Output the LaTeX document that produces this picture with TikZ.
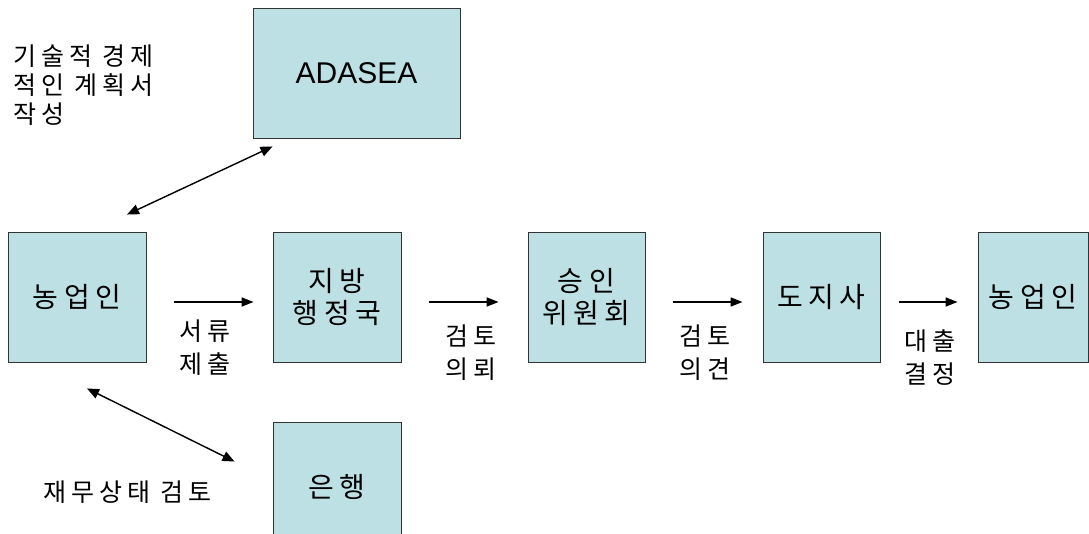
\documentclass[tikz,border=0pt]{standalone}
\usepackage{fontspec}
\setmainfont{Liberation Sans}
\newfontfamily\kr[LetterSpace=20]{Noto Sans CJK KR}
\usetikzlibrary{arrows.meta}
\definecolor{boxfill}{RGB}{188,224,227}
\tikzset{
  box/.style={draw=black!80, fill=boxfill, line width=0.9pt, minimum height=130pt, inner sep=0pt, align=center, font=\kr\fontsize{28}{32}\selectfont},
  flow/.style={-{Triangle[length=12pt,width=9pt]}, line width=1.6pt},
  both/.style={{Triangle[length=12pt,width=10pt]}-{Triangle[length=12pt,width=10pt]}, line width=1.4pt},
  lbl/.style={align=center, inner sep=0pt, font=\kr\fontsize{25}{33}\selectfont},
}
\begin{document}
\begin{tikzpicture}[x=1pt,y=-1pt]
\useasboundingbox (0,0) rectangle (1089,534);
\clip (0,0) rectangle (1089,534);
\node[box, minimum width=138pt](F1)at(77,297){농업인};
\node[box, minimum width=128pt](L)at(337,297){지방\\행정국};
\node[box, minimum width=117pt](C)at(586.5,297){승인\\위원회};
\node[box, minimum width=117pt](D)at(821.5,297){도지사};
\node[box, minimum width=110pt](F2)at(1033,297){농업인};
\node[box, minimum width=207pt, font=\fontsize{30}{36}\selectfont](A)at(356.5,73){ADASEA};
\node[box, minimum width=128pt](B)at(337,487){은행};
% flow of the file
\draw[flow]([shift={(28,5)}]F1.east)--([shift={(-19,5)}]L.west);
\draw[flow]([shift={(28,5)}]L.east)--([shift={(-29,5)}]C.west);
\draw[flow]([shift={(28,5)}]C.east)--([shift={(-20,5)}]D.west);
\draw[flow]([shift={(19,5)}]D.east)--([shift={(-20,5)}]F2.west);
\node[lbl](l1)at(205,348){서류\\제출};
\node[lbl](l2)at(471,353){검토\\의뢰};
\node[lbl](l3)at(705,353){검토\\의견};
\node[lbl](l4)at(930,358){대출\\결정};
% side partners
\coordinate(a1)at([shift={(50,-17)}]F1.north);
\coordinate(a2)at([shift={(20,8)}]A.south west);
\draw[both](a1)--(a2);
\coordinate(b1)at([shift={(10,26)}]F1.south);
\coordinate(b2)at([shift={(-38,40)}]B.north west);
\draw[both](b1)--(b2);
\node[lbl, align=left, anchor=west, font=\kr\fontsize{25}{29}\selectfont](ta)at(13,85){기술적 경제\\적인 계획서\\작성};
\node[lbl, anchor=west](tb)at(43,492){재무상태 검토};
\end{tikzpicture}
\end{document}
